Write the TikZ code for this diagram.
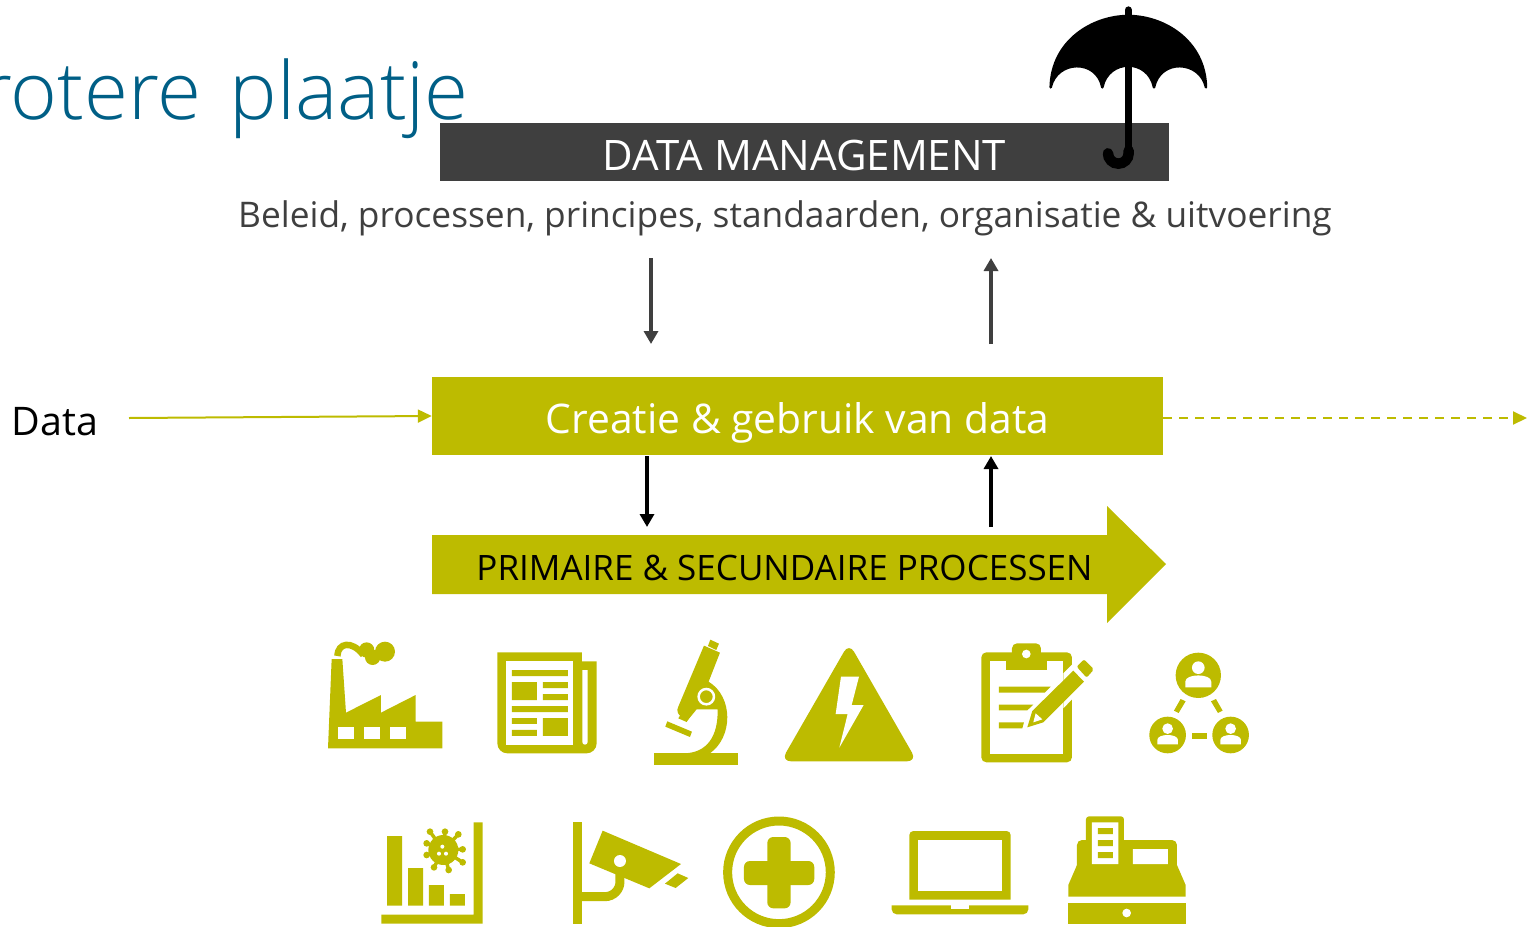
\documentclass[tikz,border=0pt]{standalone}
\usepackage{fontspec}
\setmainfont{Open Sans}
\newfontfamily\lightfont[UprightFont=* Light]{Open Sans}
\usetikzlibrary{arrows.meta,positioning,calc}
\definecolor{olijf}{RGB}{189,187,0}
\definecolor{donker}{RGB}{63,63,63}
\definecolor{titelblauw}{RGB}{0,95,134}
\tikzset{
	balk/.style={rectangle, inner sep=0pt, text=white},
	pijl/.style={-{Triangle[length=13pt,width=14pt]}, line width=4pt},
	datalijn/.style={-{Triangle[length=14pt,width=13pt]}, olijf, line width=2pt},
	icoon/.style={fill=olijf, draw=none},
	gat/.style={fill=white, draw=none}
}
\begin{document}
\begin{tikzpicture}[x=1pt,y=-1pt]
	\useasboundingbox (0,0) rectangle (1528,926);
	% Title
	\node[anchor=base east, inner sep=0pt, text=titelblauw] (titel) at (469,119) {\fontsize{80}{90}\lightfont rotere\hspace{7pt} plaatje};
	% Bars
	\node[balk, fill=donker, minimum width=729pt, minimum height=58pt] (beheer) at (804.5,152) {\fontsize{42}{50}\selectfont\raisebox{-18pt}[0pt][0pt]{DATA MANAGEMENT}};
	\node[anchor=base, text=donker, inner sep=0pt] (beleid) at (785,227) {\fontsize{35.3}{42}\selectfont Beleid, processen, principes, standaarden, organisatie \& uitvoering};
	\node[balk, fill=olijf, minimum width=731pt, minimum height=78pt] (creatie) at (797.5,416) {\fontsize{40.8}{48}\selectfont\raisebox{-17.5pt}[0pt][0pt]{Creatie \& gebruik van data}};
	\node[anchor=base, inner sep=0pt] (data) at (55,435) {\fontsize{39.4}{46}\selectfont Data};
	\fill[olijf] (432,535) -- (1107,535) -- (1107,506) -- (1166,564) -- (1107,623) -- (1107,594) -- (432,594) -- cycle;
	\node[anchor=base, inner sep=0pt] (proces) at (784.5,580) {\fontsize{35}{42}\selectfont PRIMAIRE \& SECUNDAIRE PROCESSEN};
	% Arrows
	\coordinate (neerA) at (651,258);
	\coordinate (neerB) at (651,344);
	\coordinate (opA) at (991,344);
	\coordinate (opB) at (991,258);
	\coordinate (neerC) at (647,456);
	\coordinate (neerD) at (647,527);
	\coordinate (opC) at (991,527);
	\coordinate (opD) at (991,456);
	\coordinate (dataIn) at (129,418);
	\coordinate (dataUit) at (1527,418);
	\draw[pijl, donker] (neerA) -- (neerB);
	\draw[pijl, donker] (opA) -- (opB);
	\draw[pijl] (neerC) -- (neerD);
	\draw[pijl] (opC) -- (opD);
	\draw[datalijn] (dataIn) -- (creatie.west);
	\draw[datalijn, dashed, dash pattern=on 9pt off 7pt] (creatie.east |- dataUit) -- (dataUit);
	% Umbrella
	\begin{scope}[shift={(1030,0)},scale=0.3333]
		\filldraw[line width=2.5pt, line join=round] (62,262) .. controls (65,120) and (190,48) .. (295,48) .. controls (400,48) and (525,120) .. (528,262)
			.. controls (510,180) and (390,175) .. (372,262) .. controls (355,175) and (235,175) .. (217,262)
			.. controls (200,175) and (80,180) .. (62,262) -- cycle;
		\draw[line width=7.3pt, line cap=round] (295,30) -- (295,60);
		\draw[line width=7.3pt] (295,60) -- (295,450);
		\draw[line width=10.5pt, line cap=round] (296,452) -- (296,460) arc[start angle=0, end angle=180, radius=31];
	\end{scope}
	% Factory, newspaper, microscope
	\begin{scope}[shift={(300,630)},scale=0.3333]
		\fill[icoon] (95,87) -- (127,87) -- (138,248) -- (243,195) -- (243,248) -- (347,195) -- (347,275) -- (427,275) -- (427,355) -- (84,355) -- cycle;
		\foreach \x in {114,192,270}
			\fill[gat] (\x,292) rectangle ++(48,35);
		\draw[olijf, line width=6.5pt] (112,78) .. controls (114,38) and (155,30) .. (190,75);
		\fill[icoon] (255,65) circle (30) (218,82) circle (23) (200,60) circle (23);
		% newspaper
		\fill[icoon] (592,67) -- (592,340) arc[start angle=180, end angle=90, radius=30] -- (860,370)
			arc[start angle=90, end angle=0, radius=30] -- (890,94) -- (846,94) -- (846,67) -- cycle;
		\fill[gat] (618,94) rectangle (820,344);
		\fill[gat] (847,120) -- (863,120) -- (863,336) arc[start angle=0, end angle=180, radius=8] -- cycle;
		\fill[icoon] (636,120) rectangle (804,138) (636,156) rectangle (711,210) (729,156) rectangle (804,174)
			(729,192) rectangle (804,210) (636,228) rectangle (804,246) (636,264) rectangle (711,282)
			(636,300) rectangle (711,318) (729,264) rectangle (804,318);
		% microscope
		\fill[icoon] (1063,370) rectangle (1313,406);
		\fill[icoon] (1231,29) -- (1257,41) -- (1249,60) -- (1224,48) -- cycle;
		\fill[icoon] (1212,47) -- (1260,68) -- (1226,155) .. controls (1300,200) and (1300,320) .. (1230,370) -- (1150,370)
			.. controls (1220,370) and (1255,320) .. (1253,238) -- (1190,238) -- (1168,265) -- (1160,276) -- (1135,265) -- (1140,257)
			.. controls (1132,250) and (1130,240) .. (1135,230) -- cycle;
		\fill[icoon] (1102,274) -- (1176,305) -- (1170,321) -- (1096,290) -- cycle;
		\draw[white, line width=2.5pt, fill=olijf] (1219,200) circle (23);
	\end{scope}
	% Warning, clipboard, network
	\begin{scope}[shift={(770,630)},scale=0.3333]
		\fill[icoon, rounded corners=10pt] (237,39) -- (33,394) -- (441,394) -- cycle;
		\fill[gat] (213,140) -- (267,140) -- (245,225) -- (281,225) -- (208,353) -- (233,252) -- (197,252) -- cycle;
		% clipboard
		\fill[icoon, rounded corners=5pt] (634,67) rectangle (906,397);
		\fill[icoon, rounded corners=5pt] (726,40) rectangle (813,90);
		\fill[gat] (660,94) rectangle (880,371);
		\fill[icoon] (708,94) rectangle (832,121);
		\fill[gat] (769,72) circle (13);
		\fill[icoon] (687,170) -- (842,170) -- (824,188) -- (687,188) -- cycle;
		\fill[icoon] (687,224) -- (790,224) -- (772,241) -- (687,241) -- cycle;
		\fill[icoon] (687,277) -- (762,277) -- (757,295) -- (687,295) -- cycle;
		\fill[gat] (880,130) -- (910,100) -- (960,150) -- (906,208) -- (880,235) -- cycle;
		\fill[icoon] (910,122) -- (942,155) -- (820,277) -- (772,292) -- (787,243) -- cycle;
		\fill[gat] (797,250) -- (817,268) -- (790,277) -- cycle;
		\fill[icoon, rounded corners=2pt] (920,110) -- (942,88) -- (972,118) -- (950,143) -- cycle;
		% network
		\fill[icoon] (1285,136) circle (68) (1193,315) circle (55) (1382,315) circle (55);
		\fill[gat] (1285,113) circle (19) (1193,296) circle (16) (1382,296) circle (16);
		\fill[gat] (1246,172) -- (1246,155) .. controls (1246,130) and (1324,130) .. (1324,155) -- (1324,172) -- cycle;
		\foreach \x in {1193,1382}
			\fill[gat] (\x-31,343) -- (\x-31,330) .. controls (\x-31,310) and (\x+31,310) .. (\x+31,330) -- (\x+31,343) -- cycle;
		\fill[icoon] (1232,207) -- (1247,214) -- (1226,249) -- (1212,242) -- cycle;
		\fill[icoon] (1338,207) -- (1323,214) -- (1344,249) -- (1358,242) -- cycle;
		\fill[icoon] (1265,309) rectangle (1310,326);
	\end{scope}
	% Chart, camera, medical
	\begin{scope}[shift={(370,805)},scale=0.3333]
		\fill[icoon] (311,52) rectangle (338,356) (34,329) rectangle (338,356);
		\fill[icoon] (51,93) rectangle (96,302) (114,189) rectangle (159,302) (177,240) rectangle (222,302) (240,267) rectangle (285,302);
		\fill[icoon] (220,135) circle (45);
		\foreach \px/\py in {180/80,225/80,265/88,278/133,278/172,236/195,192/187,170/150,170/115} {
			\draw[olijf, line width=3.5pt] (220,135) -- (\px,\py);
			\fill[icoon] (\px,\py) circle (10);
		}
		\fill[gat] (217,125) circle (6) (207,146) circle (6) (228,146) circle (6);
		% camera
		\fill[icoon] (610,52) rectangle (636,356);
		\draw[olijf, line width=9pt] (636,275) -- (705,275) arc[start angle=90, end angle=0, radius=45] -- (750,200);
		\fill[icoon] (698,77) -- (933,177) -- (838,250) -- (658,175) -- cycle;
		\fill[gat] (750,168) circle (18);
		\fill[icoon] (923,205) -- (955,219) -- (917,249) -- (885,236) -- cycle;
		% medical
		\draw[olijf, line width=9pt] (1227,202) circle (154);
		\fill[icoon, rounded corners=6pt] (1192,96) rectangle (1262,310);
		\fill[icoon, rounded corners=6pt] (1122,168) rectangle (1333,240);
	\end{scope}
	% Laptop, cash register
	\begin{scope}[shift={(850,805)},scale=0.3333]
		\fill[icoon, rounded corners=4pt] (178,284) -- (178,78) -- (482,78) [sharp corners] -- (482,284) -- cycle;
		\fill[gat] (205,105) rectangle (455,257);
		\fill[icoon] (125,301) -- (125,313) arc[start angle=180, end angle=90, radius=15] -- (520,328)
			arc[start angle=90, end angle=0, radius=15] -- (535,301) -- cycle;
		\fill[gat] (303,298) rectangle (357,311);
		% register
		\fill[icoon, rounded corners=3pt] (708,34) rectangle (822,120);
		\fill[icoon, rounded corners=5pt] (681,200) -- (681,105) -- (981,105) -- (981,200) -- cycle;
		\fill[icoon] (681,180) -- (981,180) -- (1007,240) -- (1007,275) -- (655,275) -- (655,240) -- cycle;
		\fill[gat] (726,52) rectangle (805,177) (849,132) rectangle (954,177);
		\fill[icoon] (744,69) rectangle (789,87) (744,105) rectangle (789,123) (744,141) rectangle (789,159);
		\fill[icoon] (655,293) rectangle (1007,356);
		\fill[gat] (830,324) circle (13);
	\end{scope}
\end{tikzpicture}
\end{document}
